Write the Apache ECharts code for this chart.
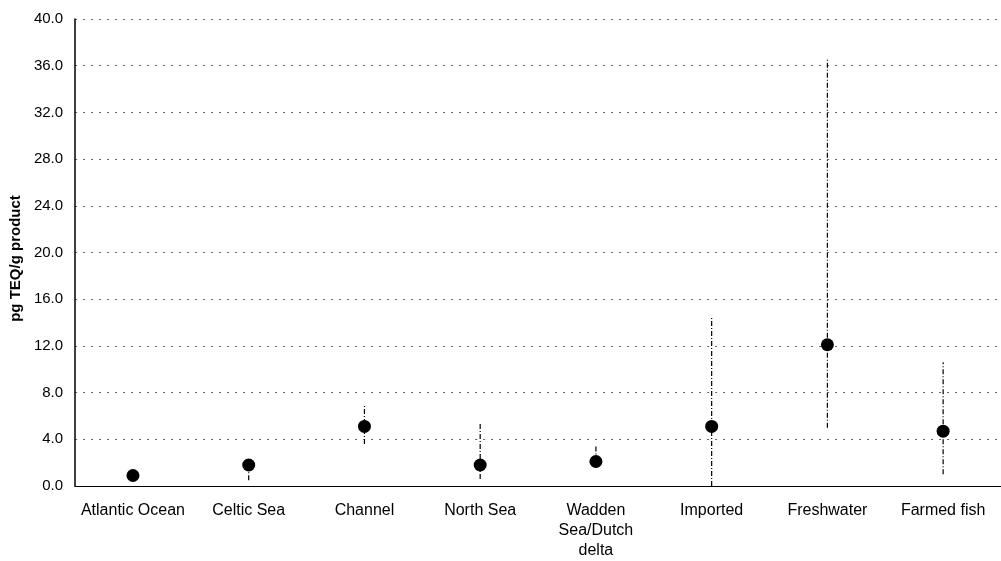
<!DOCTYPE html>
<html>
<head>
<meta charset="utf-8">
<script src="https://cdn.jsdelivr.net/npm/echarts@6/dist/echarts.min.js"></script>
<style>
html,body{margin:0;padding:0;background:#fff;}
#chart{width:1001px;height:561px;}
</style>
</head>
<body>
<div id="chart"></div>
<script>
var categories = ['Atlantic Ocean', 'Celtic Sea', 'Channel', 'North Sea', 'Wadden\nSea/Dutch\ndelta', 'Imported', 'Freshwater', 'Farmed fish'];
var means = [0.9, 1.8, 5.1, 1.8, 2.1, 5.1, 12.1, 4.7];
var lows  = [0.9, 0.5, 3.6, 0.6, 2.1, 0.0, 5.0, 1.0];
var highs = [0.9, 1.8, 7.0, 5.3, 3.5, 14.5, 36.6, 10.6];
var yTicks = {min: 0, max: 40, interval: 4};

var errData = categories.map(function (c, i) { return [i, lows[i], highs[i]]; });
var font = "'Liberation Sans', Arial, sans-serif";

var chart = echarts.init(document.getElementById('chart'));
chart.setOption({
  animation: false,
  backgroundColor: '#fff',
  grid: {left: 75, right: -4, top: 19, bottom: 73},
  xAxis: {
    type: 'category',
    data: categories,
    boundaryGap: true,
    axisLine: {show: true, lineStyle: {color: '#000', width: 1.2}},
    axisTick: {show: false},
    axisLabel: {color: '#000', fontFamily: font, fontSize: 16, lineHeight: 20, margin: 15, interval: 0}
  },
  yAxis: {
    type: 'value',
    min: yTicks.min, max: yTicks.max, interval: yTicks.interval,
    name: 'pg TEQ/g product',
    nameLocation: 'middle',
    nameGap: 47,
    nameTextStyle: {color: '#000', fontFamily: font, fontSize: 15, fontWeight: 'bold', padding: [0, 12, 0, 0]},
    axisLine: {show: true, lineStyle: {color: '#000', width: 1.5}},
    axisTick: {show: false},
    axisLabel: {color: '#000', fontFamily: font, fontSize: 15, margin: 12,
      formatter: function (v) { return v.toFixed(1); }},
    splitLine: {show: true, lineStyle: {color: '#666', width: 1, type: [2, 6]}}
  },
  series: [
    {
      type: 'custom',
      z: 2,
      data: errData,
      renderItem: function (params, api) {
        var i = api.value(0);
        var p1 = api.coord([i, api.value(1)]);
        var p2 = api.coord([i, api.value(2)]);
        return {
          type: 'line',
          shape: {x1: p1[0], y1: p1[1], x2: p2[0], y2: p2[1]},
          style: {stroke: '#000', lineWidth: 1.2, lineDash: [5, 2, 1, 2]}
        };
      }
    },
    {
      type: 'scatter',
      z: 3,
      data: means,
      symbol: 'circle',
      symbolSize: 13,
      itemStyle: {color: '#000', opacity: 1}
    }
  ]
});
</script>
</body>
</html>
